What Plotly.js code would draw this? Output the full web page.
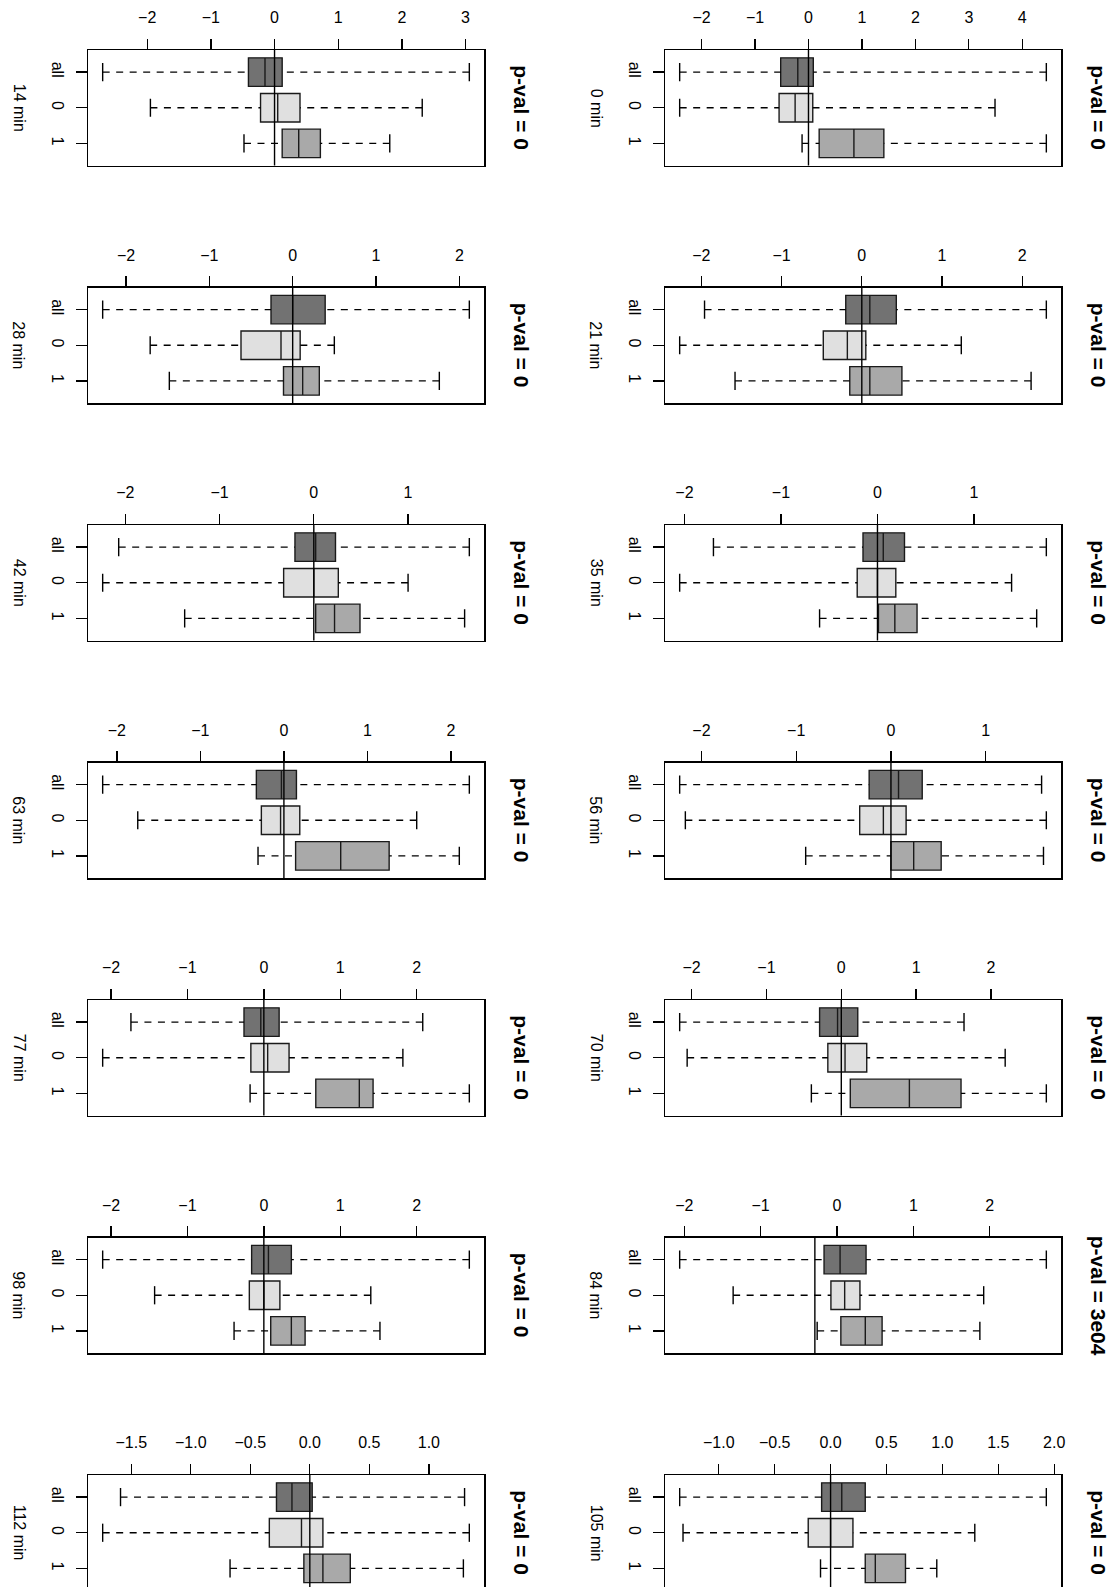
<!DOCTYPE html>
<html>
<head>
<meta charset="utf-8">
<script src="https://cdn.plot.ly/plotly-3.0.1.min.js"></script>
<style>html,body{margin:0;padding:0;background:#fff;}#plot{width:1115px;height:1587px;}</style>
</head>
<body>
<div id="plot"></div>
<script>
// ---------- data ----------
const minutes = [0, 14, 21, 28, 35, 42, 56, 63, 70, 77, 84, 98, 105, 112];
const categories = ['all', '0', '1'];
const pvals = ['0', '0', '0', '0', '0', '0', '0', '0', '0', '0', '3e04', '0', '0', '0'];
const refLine = [0, 0, 0, 0, 0, 0, 0, 0, 0, 0, -0.29, 0, 0, 0];

// group "all"
const loAll  = [-2.41, -2.70, -1.96, -2.28, -1.70, -2.07, -2.23, -2.17, -2.16, -1.74, -2.06, -2.11, -1.35, -1.59];
const q1All  = [-0.52, -0.41, -0.20, -0.26, -0.15, -0.20, -0.23, -0.33, -0.29, -0.26, -0.17, -0.16, -0.08, -0.28];
const medAll = [-0.20, -0.15,  0.10,  0.00,  0.06,  0.02,  0.08, -0.03, -0.05, -0.04,  0.04,  0.06,  0.10, -0.15];
const q3All  = [ 0.09,  0.12,  0.43,  0.39,  0.28,  0.23,  0.33,  0.15,  0.22,  0.20,  0.38,  0.36,  0.31,  0.02];
const hiAll  = [ 4.45,  3.06,  2.30,  2.12,  1.75,  1.65,  1.59,  2.22,  1.64,  2.08,  2.74,  2.69,  1.93,  1.30];
// group "0"
const lo0  = [-2.41, -1.95, -2.27, -1.71, -2.05, -2.24, -2.17, -1.75, -2.06, -2.11, -1.36, -1.43, -1.32, -1.74];
const q10  = [-0.55, -0.22, -0.48, -0.62, -0.21, -0.32, -0.33, -0.27, -0.18, -0.17, -0.08, -0.19, -0.20, -0.34];
const med0 = [-0.25,  0.05, -0.18, -0.14,  0.00,  0.00, -0.08, -0.04,  0.05,  0.05,  0.10,  0.00,  0.00, -0.07];
const q30  = [ 0.08,  0.40,  0.05,  0.09,  0.19,  0.26,  0.16,  0.19,  0.34,  0.33,  0.30,  0.21,  0.20,  0.11];
const hi0  = [ 3.49,  2.32,  1.24,  0.50,  1.39,  1.00,  1.64,  1.59,  2.19,  1.82,  1.92,  1.40,  1.29,  1.34];
// group "1"
const lo1  = [-0.12, -0.48, -1.58, -1.48, -0.60, -1.37, -0.90, -0.31, -0.40, -0.18, -0.26, -0.39, -0.09, -0.67];
const q11  = [ 0.20,  0.12, -0.15, -0.11,  0.01,  0.02,  0.00,  0.14,  0.12,  0.68,  0.05,  0.09,  0.31, -0.05];
const med1 = [ 0.85,  0.38,  0.10,  0.12,  0.18,  0.22,  0.24,  0.68,  0.91,  1.25,  0.37,  0.36,  0.40,  0.11];
const q31  = [ 1.41,  0.72,  0.50,  0.32,  0.41,  0.49,  0.53,  1.26,  1.60,  1.43,  0.59,  0.54,  0.67,  0.34];
const hi1  = [ 4.45,  1.81,  2.11,  1.76,  1.65,  1.60,  1.61,  2.10,  2.74,  2.69,  1.87,  1.52,  0.95,  1.29];

// ---------- layout helpers ----------
const W = 1115, H = 1587;
const colLeft = [665, 88];      // column 0 = right, column 1 = left
const frameW = 396;
const top0 = 50, rowStep = 237.5, frameH = 115.5;
const fills = ['#727272', '#e0e0e0', '#a9a9a9'];
const FONT = 'Liberation Sans, Arial, Helvetica, sans-serif';

const groups = [
  [loAll, q1All, medAll, q3All, hiAll],
  [lo0, q10, med0, q30, hi0],
  [lo1, q11, med1, q31, hi1]
];

const traces = [];
const layout = {
  width: W, height: H,
  margin: {l: 0, r: 0, t: 0, b: 0},
  paper_bgcolor: '#fff', plot_bgcolor: '#fff',
  showlegend: false,
  boxmode: 'overlay',
  annotations: []
};

for (let i = 0; i < minutes.length; i++) {
  const n = i + 1;
  const xa = 'x' + (n === 1 ? '' : n), ya = 'y' + (n === 1 ? '' : n);
  const col = i % 2, row = Math.floor(i / 2);
  const L = colLeft[col];
  const top = top0 + row * rowStep;
  const bottom = top + frameH;
  const visBottom = Math.min(bottom, H);
  const clipped = bottom > H;

  // R-style axis range (data range + 4%)
  let mn = Infinity, mx = -Infinity;
  groups.forEach(g => { mn = Math.min(mn, g[0][i]); mx = Math.max(mx, g[4][i]); });
  const span = mx - mn;
  const xr = [mn - 0.04 * span, mx + 0.04 * span];
  const yTop = 0.38, yBotFull = 3.62;
  const yBot = yTop + (visBottom - top) / frameH * (yBotFull - yTop);
  const step = (xr[1] - xr[0]) < 3.8 ? 0.5 : 1;

  layout['xaxis' + (n === 1 ? '' : n)] = {
    domain: [L / W, (L + frameW) / W],
    range: xr, side: 'top', anchor: ya,
    showline: true, mirror: !clipped, linecolor: '#000', linewidth: 1.5,
    ticks: 'outside', ticklen: 10, tickwidth: 1.3, tickcolor: '#000',
    tick0: 0, dtick: step, tickformat: step < 1 ? '.1f' : 'd',
    showgrid: false, zeroline: false, fixedrange: true,
    ticklabelstandoff: 9,
    tickfont: {family: FONT, size: 16, color: '#000'}
  };
  layout['yaxis' + (n === 1 ? '' : n)] = {
    domain: [1 - visBottom / H, 1 - top / H],
    range: [yBot, yTop], anchor: xa,
    tickvals: [1, 2, 3], ticktext: categories, tickangle: 90,
    showline: true, mirror: true, linecolor: '#000', linewidth: 1.5,
    ticks: 'outside', ticklen: 11, tickwidth: 1.3, tickcolor: '#000',
    showgrid: false, zeroline: false, fixedrange: true,
    ticklabelstandoff: 4,
    tickfont: {family: FONT, size: 16, color: '#000'}
  };

  // boxes
  groups.forEach((g, k) => {
    traces.push({
      type: 'box', orientation: 'h', xaxis: xa, yaxis: ya,
      y: [k + 1], q1: [g[1][i]], median: [g[2][i]], q3: [g[3][i]],
      lowerfence: [g[1][i]], upperfence: [g[3][i]],
      width: 0.8, whiskerwidth: 0, boxpoints: false,
      fillcolor: fills[k], line: {color: '#1a1a1a', width: 1.4},
      hoverinfo: 'skip'
    });
  });

  // dashed whiskers
  const wx = [], wy = [], sx = [], sy = [];
  groups.forEach((g, k) => {
    wx.push(g[0][i], g[1][i], null, g[4][i], g[3][i], null);
    wy.push(k + 1, k + 1, null, k + 1, k + 1, null);
    sx.push(g[0][i], g[4][i]);
    sy.push(k + 1, k + 1);
  });
  traces.push({
    type: 'scatter', mode: 'lines', xaxis: xa, yaxis: ya, x: wx, y: wy,
    line: {color: '#000', width: 1.3, dash: '7px,6.5px'}, hoverinfo: 'skip', connectgaps: false
  });
  traces.push({
    type: 'scatter', mode: 'markers', xaxis: xa, yaxis: ya, x: sx, y: sy,
    marker: {symbol: 'line-ns', size: 13, color: '#000', line: {color: '#000', width: 1.4}},
    hoverinfo: 'skip'
  });
  // reference line
  traces.push({
    type: 'scatter', mode: 'lines', xaxis: xa, yaxis: ya,
    x: [refLine[i], refLine[i]], y: [yTop - 1, yBotFull + 1],
    line: {color: '#000', width: 1.4}, hoverinfo: 'skip'
  });

  const cy = 1 - (top + frameH / 2) / H;
  layout.annotations.push({
    xref: 'paper', yref: 'paper', x: (L + frameW + 37.5) / W, y: cy,
    xanchor: 'center', yanchor: 'middle', showarrow: false, textangle: 90,
    text: '<b>p-val = ' + pvals[i] + '</b>',
    font: {family: FONT, size: 21, color: '#000'}
  });
  layout.annotations.push({
    xref: 'paper', yref: 'paper', x: (L - 69) / W, y: cy,
    xanchor: 'center', yanchor: 'middle', showarrow: false, textangle: 90,
    text: minutes[i] + ' min',
    font: {family: FONT, size: 16, color: '#000'}
  });
}

Plotly.newPlot('plot', traces, layout, {staticPlot: true, displayModeBar: false});
</script>
</body>
</html>
